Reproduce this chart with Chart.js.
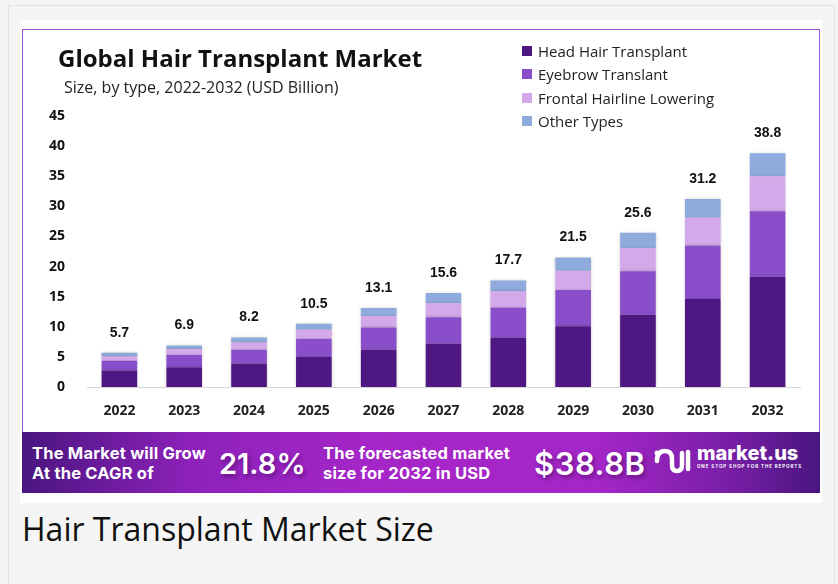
<!DOCTYPE html>
<html lang="en">
<head>
    <meta charset="UTF-8">
    <title>Hair Transplant Market Size</title>
    <script src="https://cdn.jsdelivr.net/npm/chart.js"></script> <!--chart.js-->
    <style>
        html, body { margin: 0; padding: 0; }
        body { width: 838px; height: 584px; background: #f5f5f5; position: relative; overflow: hidden; font-family: "Open Sans", sans-serif; }
        #frame { position: absolute; left: 8px; top: 5px; width: 825px; height: 590px; border-left: 1px solid #e2e2e2; border-top: 1px solid #e2e2e2; border-right: 1px solid #e2e2e2; background: #f5f5f5; }
        #panel { position: absolute; left: 20px; top: 20px; width: 802px; height: 483px; background: #fff; }
        #box { position: absolute; left: 22px; top: 29px; width: 796px; height: 402px; border: 1px solid #9a50d0; border-bottom: none; }
        #chart-wrap { position: absolute; left: 23px; top: 30px; width: 796px; height: 401px; }
        #title { position: absolute; left: 58px; top: 46px; font-size: 24px; font-weight: 700; color: #111; line-height: 1; }
        #subtitle { position: absolute; left: 64px; top: 79px; font-size: 16px; color: #222; line-height: 1; }
        #legend { position: absolute; left: 522px; top: 39px; }
        .leg { display: flex; align-items: center; height: 23.5px; font-size: 15px; color: #222; }
        .leg span { display: inline-block; width: 10px; height: 10px; margin-right: 6px; }
        #banner { position: absolute; left: 22px; top: 432px; width: 798px; height: 61px; color: #fff;
            background: linear-gradient(90deg, #4a1580 0%, #8f22bb 22%, #a626c8 45%, #a526c8 72%, #7a1fa8 88%, #4a1580 100%); }
        .btxt { position: absolute; font-family: Inter, sans-serif; font-weight: 700; font-size: 16.5px; line-height: 20px; letter-spacing: 0.2px; }
        .bbig { position: absolute; font-family: Inter, sans-serif; font-weight: 600; font-size: 29px; line-height: 1; text-shadow: 2px 3px 4px rgba(40,0,60,0.45); }
        #mk { position: absolute; left: 675px; top: 9px; font-family: Inter, sans-serif; font-weight: 800; font-size: 20px; }
        #mk small { display: block; font-size: 4.5px; letter-spacing: 0.9px; margin-top: -1px; font-weight: 700; }
        #caption { position: absolute; left: 22px; top: 510px; font-size: 32px; color: #111; line-height: 1.2; }
    </style>
</head>
<body>
    <div id="frame"></div>
    <div id="panel"></div>
    <div id="box"></div>
    <div id="chart-wrap"><canvas id="mChart" width="796" height="401"></canvas></div>
    <div id="title">Global Hair Transplant Market</div>
    <div id="subtitle">Size, by type, 2022-2032 (USD Billion)</div>
    <div id="legend"></div>
    <div id="banner">
        <div class="btxt" style="left:10px; top:11px;">The Market will Grow<br>At the CAGR of</div>
        <div class="bbig" style="left:197px; top:17px;">21.8%</div>
        <div class="btxt" style="left:301px; top:11px;">The forecasted market<br>size for 2032 in USD</div>
        <div class="bbig" style="left:512px; top:16px; font-size:31px; letter-spacing:0.5px;">$38.8B</div>
        <svg style="position:absolute; left:632px; top:15px;" width="38" height="28" viewBox="0 0 38 28">
            <circle cx="3" cy="6" r="2.5" fill="#fff"/>
            <path d="M3 14 Q3 4 11 4 Q18 4 18 12 L18 18 Q18 24 23 24 Q28 24 28 18 L28 6" fill="none" stroke="#fff" stroke-width="4.5" stroke-linecap="round"/>
            <path d="M34 5 L34 22" stroke="#fff" stroke-width="4.5" stroke-linecap="round"/>
        </svg>
        <div id="mk">market.us<small>ONE STOP SHOP FOR THE REPORTS</small></div>
    </div>
    <div id="caption">Hair Transplant Market Size</div>

    <script>
        // chart data (USD Billion)
        const years = ['2022','2023','2024','2025','2026','2027','2028','2029','2030','2031','2032'];
        const headHair = [2.75, 3.3, 3.9, 5.0, 6.2, 7.2, 8.2, 10.1, 12.0, 14.6, 18.3];
        const eyebrow  = [1.6, 2.0, 2.3, 3.0, 3.7, 4.4, 5.0, 6.0, 7.2, 8.9, 10.9];
        const frontal  = [0.7, 1.0, 1.2, 1.5, 1.9, 2.3, 2.7, 3.2, 3.9, 4.6, 5.8];
        const otherTypes = [0.65, 0.6, 0.8, 1.0, 1.3, 1.7, 1.8, 2.2, 2.5, 3.1, 3.8];
        const totals = ['5.7','6.9','8.2','10.5','13.1','15.6','17.7','21.5','25.6','31.2','38.8'];
        const yTicks = [0, 5, 10, 15, 20, 25, 30, 35, 40, 45];

        const seriesNames = ['Head Hair Transplant', 'Eyebrow Translant', 'Frontal Hairline Lowering', 'Other Types'];
        const seriesColors = ['#4f1781', '#8b4ecb', '#d4a9ea', '#8fabdd'];
        const seriesData = [headHair, eyebrow, frontal, otherTypes];

        // legend built from series names/colours
        const legendDiv = document.getElementById('legend');
        seriesNames.forEach((name, i) => {
            const row = document.createElement('div');
            row.className = 'leg';
            row.innerHTML = `<span style="background:${seriesColors[i]}"></span>${name}`;
            legendDiv.appendChild(row);
        });

        // soft grey edge around the bars
        const shadowPlugin = {
            id: 'barShadow',
            beforeDatasetsDraw: (chart) => {
                const c = chart.ctx;
                c.save();
                c.shadowColor = 'rgba(0,0,0,0.22)';
                c.shadowBlur = 3;
            },
            afterDatasetsDraw: (chart) => {
                chart.ctx.restore();
            }
        };

        // total value above each stack
        const totalsPlugin = {
            id: 'totals',
            afterDatasetsDraw: (chart) => {
                const c = chart.ctx;
                const meta = chart.getDatasetMeta(chart.data.datasets.length - 1);
                c.save();
                c.font = 'bold 14px "Liberation Sans", Arial, sans-serif';
                c.fillStyle = '#111';
                c.textAlign = 'center';
                c.textBaseline = 'middle';
                meta.data.forEach((bar, i) => {
                    c.fillText(totals[i], bar.x, bar.y - 20);
                });
                c.restore();
            }
        };

        const ctx = document.getElementById('mChart').getContext('2d');
        const mChart = new Chart(ctx, {
            type: 'bar',
            data: {
                labels: years,
                datasets: seriesData.map((d, i) => ({
                    label: seriesNames[i],
                    data: d,
                    backgroundColor: seriesColors[i],
                    borderWidth: 0,
                    barPercentage: 0.55,
                    categoryPercentage: 1.0
                }))
            },
            options: {
                responsive: false,
                animation: false,
                layout: { padding: { top: 86, left: 23, right: 19, bottom: 0 } },
                plugins: { legend: { display: false }, tooltip: { enabled: false } },
                scales: {
                    x: {
                        stacked: true,
                        grid: { display: false },
                        border: { display: true, color: '#d6d6d6', width: 1 },
                        ticks: { color: '#222', padding: 8, font: { family: 'Open Sans', weight: 'bold', size: 14 } },
                        afterFit: (scale) => { scale.height = 44; }
                    },
                    y: {
                        stacked: true,
                        min: 0,
                        max: 45,
                        afterBuildTicks: (scale) => { scale.ticks = yTicks.map(v => ({ value: v })); },
                        grid: { display: false },
                        border: { display: false },
                        ticks: { color: '#111', padding: 14, font: { family: 'Open Sans', weight: 'bold', size: 14 } },
                        afterFit: (scale) => { scale.width = 41; }
                    }
                }
            },
            plugins: [shadowPlugin, totalsPlugin]
        });
    </script>
</body>
</html>
